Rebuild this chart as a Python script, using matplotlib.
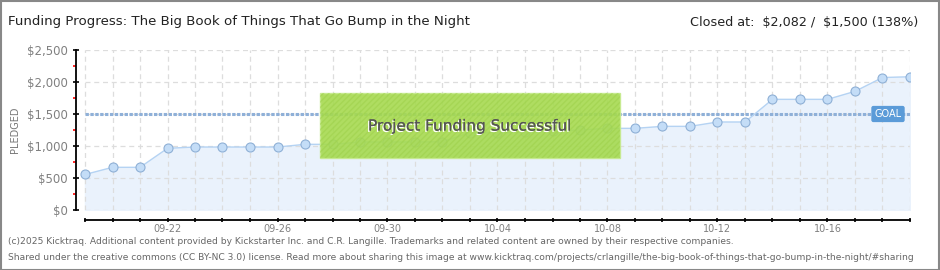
import matplotlib
matplotlib.use("Agg")
import matplotlib.pyplot as plt
import matplotlib.patheffects as pe
from matplotlib.patches import Rectangle
import pandas as pd

# Daily pledged totals (USD)
pledged = [555, 667, 667, 964, 984, 984, 984, 984, 1026, 1026, 1062,
           1062, 1062, 1067, 1208, 1210, 1214, 1230, 1250, 1276, 1276,
           1307, 1307, 1375, 1375, 1729, 1729, 1729, 1854, 2070, 2082]
days = pd.date_range("2024-09-19", periods=len(pledged)).strftime("%m-%d").tolist()
labeled_days = ["09-22", "09-26", "09-30", "10-04", "10-08", "10-12", "10-16"]
goal = 1500
y_ticks = [0, 500, 1000, 1500, 2000, 2500]
y_minor = [250, 750, 1250, 1750, 2250]

plt.rcParams["font.family"] = ["DejaVu Sans"]

W, H = 940, 270
fig = plt.figure(figsize=(W / 100, H / 100), dpi=100)
fig.patch.set_facecolor("white")

# plot area: first point at x=85px, last at 910px, $0 at y=210px, $2500 at y=50px
ax = fig.add_axes([76 / W, 1 - 210 / H, (910 - 76) / W, 160 / H])
ax.set_facecolor("none")
x = list(range(len(pledged)))
ax.set_xlim(-9 / 27.5, len(pledged) - 1)
ax.set_ylim(0, 2500)

# grid
for xi in x:
    ax.plot([xi, xi], [0, 2500], color="#dddddd", lw=0.9, dashes=(4, 3), zorder=1)
for yv in y_ticks:
    ax.plot([0, x[-1]], [yv, yv], color="#dddddd", lw=0.9, dashes=(4, 3), zorder=1)

# pledged series
ax.fill_between(x, pledged, 0, color="#eaf2fc", zorder=0.5)
ax.plot(x, pledged, color="#b5d3f3", lw=1.0, zorder=3)
ax.plot(x, pledged, "o", ms=6.5, mfc="#c4ddf7", mec="#8fb0d6", mew=0.8, zorder=4)

# goal line
ax.plot([0, x[-1]], [goal, goal], color="#8fb0d8", lw=2.2, dashes=(1.1, 0.5), zorder=2)
ax.text(29.2, goal, "GOAL", ha="center", va="center", color="white", fontsize=7,
        zorder=6,
        bbox=dict(boxstyle="round,pad=0.25,rounding_size=0.15", fc="#5b9bd8", ec="#5b9bd8"))

# axes styling
for s in ("top", "right"):
    ax.spines[s].set_visible(False)
ax.spines["left"].set_bounds(0, 2500)
ax.spines["bottom"].set_position(("outward", 7.2))
ax.spines["bottom"].set_bounds(0, x[-1])
ax.spines["left"].set_linewidth(1.3)
ax.spines["bottom"].set_linewidth(1.3)

ax.set_yticks(y_ticks)
ax.set_yticklabels(["$0" if v == 0 else f"${v:,}" for v in y_ticks],
                   color="#808080", fontsize=8.5)
ax.set_yticks(y_minor, minor=True)
ax.tick_params(axis="y", which="major", direction="inout", length=4, width=1.2, pad=4)
ax.tick_params(axis="y", which="minor", direction="out", length=2.2, width=1.2, color="red")

ax.set_xticks(x)
ax.set_xticklabels([d if d in labeled_days else "" for d in days],
                   color="#808080", fontsize=7)
ax.tick_params(axis="x", direction="inout", length=3.5, width=1.2, pad=1)

ax.set_ylabel("PLEDGED", color="#777777", fontsize=7)
ax.yaxis.set_label_coords((20 - 76) / (910 - 76), 0.5)

# success banner
ax.add_patch(Rectangle((8.55, 812), 10.9, 1016, fc="#a6da50", ec="#c6ea8e", lw=1,
                       alpha=0.9, zorder=5))
ax.add_patch(Rectangle((8.55, 812), 10.9, 1016, fc="none", ec="#9ccf48", lw=0,
                       hatch="//////", alpha=0.5, zorder=5))
ax.text(14.0, 1312, "Project Funding Successful", ha="center", va="center",
        fontsize=11, color="#555555", zorder=7,
        path_effects=[pe.withSimplePatchShadow(offset=(-1, -1), shadow_rgbFace="white", alpha=1.0),
                      pe.Normal()])

# header
fig.text(8 / W, 1 - 22 / H, "Funding Progress: The Big Book of Things That Go Bump in the Night",
         ha="left", va="center", fontsize=9.6, color="#222222")
fig.text(918 / W, 1 - 22 / H, "Closed at:  \\$2,082 /  \\$1,500 (138%)",
         ha="right", va="center", fontsize=9.2, color="#222222")

# footer
fig.text(8 / W, 1 - 242 / H,
         "(c)2025 Kicktraq. Additional content provided by Kickstarter Inc. and C.R. Langille. "
         "Trademarks and related content are owned by their respective companies.",
         ha="left", va="center", fontsize=6.6, color="#666666")
fig.text(8 / W, 1 - 257 / H,
         "Shared under the creative commons (CC BY-NC 3.0) license. Read more about sharing this image at "
         "www.kicktraq.com/projects/crlangille/the-big-book-of-things-that-go-bump-in-the-night/#sharing",
         ha="left", va="center", fontsize=6.6, color="#666666")

# outer border
fig.add_artist(Rectangle((0.5 / W, 0.5 / H), 1 - 2 / W, 1 - 1.5 / H, transform=fig.transFigure,
                         fc="none", ec="#888888", lw=1.5))

fig.savefig("out.png", dpi=100)
